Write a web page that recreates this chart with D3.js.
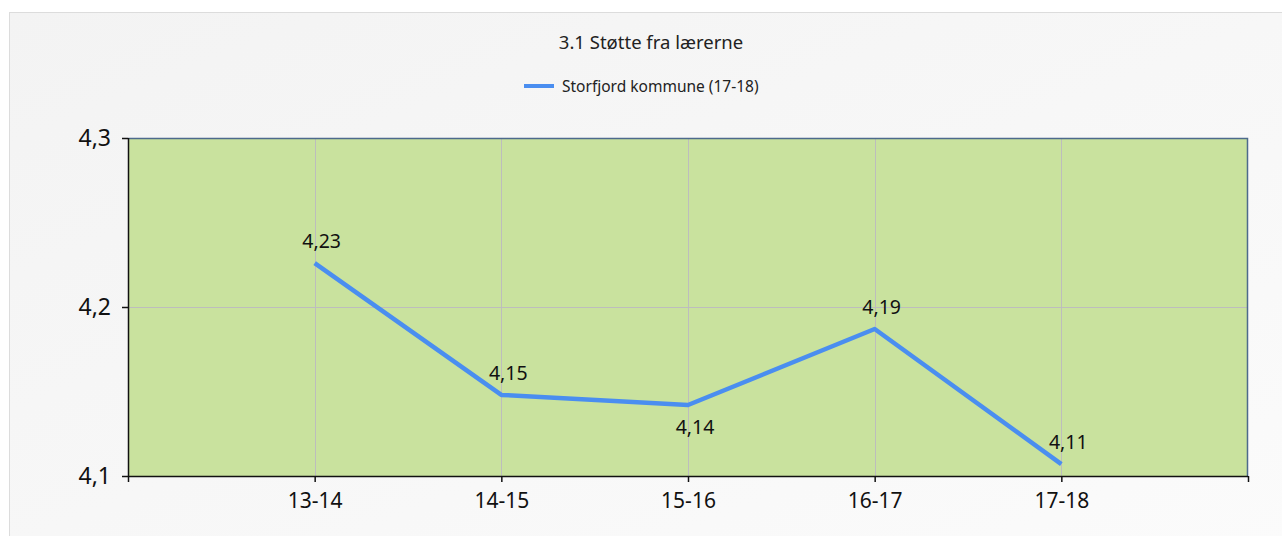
<!DOCTYPE html>
<html>
<head>
<meta charset="utf-8">
<script src="https://cdn.jsdelivr.net/npm/d3@7"></script>
<style>
  body { margin: 0; background: #fff; }
  svg { display: block; font-family: "Noto Sans", "Open Sans", sans-serif; }
</style>
</head>
<body>
<script>
// chart data
let title = "3.1 Støtte fra lærerne",
    seriesName = "Storfjord kommune (17-18)";
let categories = ["13-14", "14-15", "15-16", "16-17", "17-18"];
let values = [4.226, 4.148, 4.142, 4.187, 4.107];
let yTicks = [4.1, 4.2, 4.3];

let W = 1282, H = 536;
let margin = {top: 138, right: 34, bottom: 60, left: 128};

let svg = d3.select("body").append("svg")
    .attr("width", W)
    .attr("height", H);

// panel background
let defs = svg.append("defs");
let grad = defs.append("linearGradient")
    .attr("id", "panelGrad")
    .attr("x1", "0").attr("y1", "0").attr("x2", "1").attr("y2", "1");
grad.append("stop").attr("offset", "0").attr("stop-color", "#f3f3f3");
grad.append("stop").attr("offset", "1").attr("stop-color", "#fbfbfb");

svg.append("rect")
    .attr("x", 9.5).attr("y", 12.5)
    .attr("width", W).attr("height", H)
    .attr("fill", "url(#panelGrad)")
    .attr("stroke", "#dcdcdc");

// scales
let x = d3.scaleLinear()
    .domain([0, categories.length + 1])
    .range([margin.left, W - margin.right]);

let y = d3.scaleLinear()
    .domain([d3.min(yTicks), d3.max(yTicks)])
    .range([H - margin.bottom, margin.top]);

// plot area
svg.append("rect")
    .attr("x", x.range()[0]).attr("y", y.range()[1])
    .attr("width", x.range()[1] - x.range()[0])
    .attr("height", y.range()[0] - y.range()[1])
    .attr("fill", "#c9e29e");

// gridlines
let grid = svg.append("g").attr("stroke", "#bdbdbd").attr("stroke-width", 1);
grid.selectAll(".vg")
    .data(categories)
    .join("line")
    .attr("x1", (d, i) => Math.round(x(i + 1)) + 0.5)
    .attr("x2", (d, i) => Math.round(x(i + 1)) + 0.5)
    .attr("y1", y.range()[1])
    .attr("y2", y.range()[0]);
grid.selectAll(".hg")
    .data(yTicks.slice(1, -1))
    .join("line")
    .attr("x1", x.range()[0])
    .attr("x2", x.range()[1])
    .attr("y1", d => Math.round(y(d)) + 0.5)
    .attr("y2", d => Math.round(y(d)) + 0.5);

// top & right border
svg.append("path")
    .attr("d", `M${x.range()[0]},${y.range()[1] + 0.5}H${x.range()[1] - 0.5}V${y.range()[0]}`)
    .attr("fill", "none")
    .attr("stroke", "#4d6a8c")
    .attr("stroke-width", 1.5);

// axes
let xAxis = d3.axisBottom(x)
    .tickValues(d3.range(0, categories.length + 2))
    .tickSize(6)
    .tickFormat(i => categories[i - 1] || "");

let yAxis = d3.axisLeft(y)
    .tickValues(yTicks)
    .tickSize(6)
    .tickFormat(d => d3.format(".1f")(d).replace(".", ","));

let gx = svg.append("g")
    .attr("transform", `translate(0,${y.range()[0]})`)
    .call(xAxis);
gx.select(".domain").attr("d", `M${x.range()[0]},0.5H${x.range()[1]}`).attr("stroke", "#111").attr("stroke-width", 1.5);
gx.selectAll(".tick line").attr("stroke", "#111").attr("stroke-width", 1.5);
gx.selectAll(".tick text")
    .attr("y", 32)
    .attr("dy", 0)
    .attr("font-size", 21)
    .attr("font-family", "Noto Sans, sans-serif")
    .attr("fill", "#111");

let gy = svg.append("g")
    .attr("transform", `translate(${x.range()[0]},0)`)
    .call(yAxis);
gy.select(".domain").attr("d", `M0.5,${y.range()[1]}V${y.range()[0]}`).attr("stroke", "#111").attr("stroke-width", 1.5);
gy.selectAll(".tick line").attr("stroke", "#111").attr("stroke-width", 1.5);
gy.selectAll(".tick text")
    .attr("x", -17)
    .attr("dy", "0.34em")
    .attr("font-size", 23)
    .attr("font-family", "Noto Sans, sans-serif")
    .attr("fill", "#111");

// line
let line = d3.line()
    .x((d, i) => x(i + 1))
    .y(d => y(d));

svg.append("path")
    .datum(values)
    .attr("d", line)
    .attr("fill", "none")
    .attr("stroke", "#4a8ef0")
    .attr("stroke-width", 4.5)
    .attr("stroke-linejoin", "round");

// data labels (below for interior local minima)
let isLow = i => i > 0 && i < values.length - 1 && values[i] < values[i - 1] && values[i] < values[i + 1];
svg.append("g")
    .selectAll("text")
    .data(values)
    .join("text")
    .attr("x", (d, i) => x(i + 1) + 7)
    .attr("y", (d, i) => isLow(i) ? y(d) + 29 : y(d) - 15)
    .attr("text-anchor", "middle")
    .attr("font-size", 19.5)
    .attr("fill", "#111")
    .text(d => d3.format(".2f")(d).replace(".", ","));

// title
svg.append("text")
    .attr("x", 651).attr("y", 49)
    .attr("text-anchor", "middle")
    .attr("font-size", 18.5)
    .attr("fill", "#222")
    .text(title);

// legend
let lg = svg.append("g").attr("transform", "translate(524,86)");
lg.append("line")
    .attr("x1", 0).attr("x2", 30)
    .attr("stroke", "#4a8ef0").attr("stroke-width", 4);
lg.append("text")
    .attr("x", 38).attr("y", 5.5)
    .attr("font-size", 15.5)
    .attr("fill", "#222")
    .text(seriesName);
</script>
</body>
</html>
